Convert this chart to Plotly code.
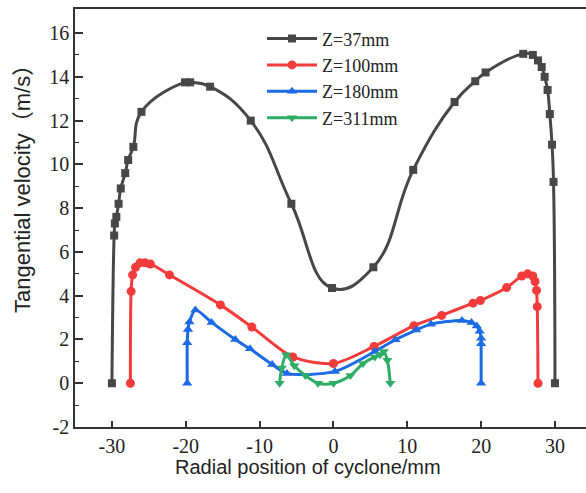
import plotly.graph_objects as go

# ---- data ----
x37 = [-30.0, -29.7, -29.6, -29.4, -29.1, -28.8, -28.2, -27.8, -27.1, -26.0, -20.1, -19.4, -16.7,
       -11.2, -5.7, -0.2, 5.4, 10.8, 16.4, 19.2, 20.6, 25.7, 27.0, 27.7, 28.2, 28.6, 29.0, 29.3,
       29.6, 29.8, 30.0]
y37 = [0.0, 6.75, 7.3, 7.6, 8.2, 8.9, 9.6, 10.2, 10.8, 12.4, 13.75, 13.75, 13.55,
       12.0, 8.2, 4.35, 5.3, 9.75, 12.85, 13.8, 14.2, 15.05, 15.0, 14.75, 14.45, 14.0, 13.4, 12.3,
       10.9, 9.2, 0.0]

x100 = [-27.5, -27.4, -27.2, -26.8, -26.2, -25.5, -24.8, -22.2, -15.3, -11.05, -5.5, 0.0, 5.5,
        10.9, 14.65, 18.9, 19.9, 23.45, 25.5, 26.3, 27.0, 27.3, 27.5, 27.6, 27.7]
y100 = [0.0, 4.2, 4.95, 5.3, 5.5, 5.5, 5.45, 4.95, 3.58, 2.57, 1.2, 0.9, 1.68,
        2.63, 3.1, 3.66, 3.78, 4.37, 4.9, 5.0, 4.9, 4.65, 4.24, 3.5, 0.0]

x180 = [-19.8, -19.8, -19.7, -19.5, -18.7, -16.5, -13.3, -11.3, -8.3, -6.3, 0.2, 5.6, 8.4,
        11.2, 13.2, 17.4, 18.7, 19.4, 19.8, 20.0, 20.0, 20.0]
y180 = [0.0, 1.85, 2.45, 2.8, 3.35, 2.78, 2.0, 1.57, 0.86, 0.45, 0.54, 1.45, 1.99,
        2.43, 2.7, 2.87, 2.78, 2.62, 2.37, 2.05, 1.8, 0.0]

x311 = [-7.3, -7.0, -6.4, -5.3, -3.8, -2.1, 0.0, 2.3, 4.0, 5.6, 6.3, 6.8, 7.3, 7.7]
y311 = [0.0, 0.7, 1.3, 0.8, 0.35, 0.0, 0.0, 0.35, 0.9, 1.2, 1.3, 1.45, 1.05, 0.0]

x_ticks = [-30, -20, -10, 0, 10, 20, 30]
x_tick_labels = ["-30", "-20", "-10", "0", "10", "20", "30"]
y_ticks = [-2, 0, 2, 4, 6, 8, 10, 12, 14, 16]
y_tick_labels = ["-2", "0", "2", "4", "6", "8", "10", "12", "14", "16"]
y_minor_ticks = [-1, 1, 3, 5, 7, 9, 11, 13, 15]

x_title = "Radial position of cyclone/mm"
y_title = "Tangential velocity（m/s）"

names = ["Z=37mm", "Z=100mm", "Z=180mm", "Z=311mm"]
colors = ["#474747", "#f23b3b", "#1c6ae4", "#2fac66"]
symbols = ["square", "circle", "triangle-up", "triangle-down"]
sizes = [8, 9, 9, 9]
smooth = [1.3, 0.8, 0.8, 0.8]

W, H = 586, 493
ML, MR, MT, MB = 75, 0, 9, 66
PW, PH = W - ML - MR, H - MT - MB

fig = go.Figure()
for xs, ys, n, c, s, sz, sm in zip([x37, x100, x180, x311], [y37, y100, y180, y311],
                                   names, colors, symbols, sizes, smooth):
    fig.add_trace(go.Scatter(
        x=xs, y=ys, name=n, mode="lines+markers",
        line=dict(color=c, width=3, shape="spline", smoothing=sm),
        marker=dict(symbol=s, size=sz, color=c),
    ))

axis_font = dict(family="Liberation Serif", size=20, color="#222")
fig.update_layout(
    width=W, height=H,
    margin=dict(l=ML, r=MR, t=MT, b=MB),
    paper_bgcolor="white", plot_bgcolor="white",
    showlegend=True,
    legend=dict(x=0.366, y=0.973, xanchor="left", yanchor="top",
                font=dict(family="Liberation Serif", size=18, color="#222"),
                bgcolor="rgba(0,0,0,0)", itemwidth=50, tracegroupgap=0),
    xaxis=dict(range=[-35, 34.2], tickmode="array", tickvals=x_ticks, ticktext=x_tick_labels,
               ticks="inside", ticklen=6, tickwidth=1.5, tickcolor="#333",
               showline=True, linecolor="#333", linewidth=1.5, mirror=True,
               showgrid=False, zeroline=False, tickfont=axis_font, automargin=False),
    yaxis=dict(range=[-2, 17.1], tickmode="array", tickvals=y_ticks, ticktext=y_tick_labels,
               ticks="inside", ticklen=8, tickwidth=1.5, tickcolor="#333",
               minor=dict(ticks="inside", tickvals=y_minor_ticks, ticklen=4,
                          tickwidth=1.2, tickcolor="#333"),
               showline=True, linecolor="#333", linewidth=1.5, mirror=False,
               showgrid=False, zeroline=False, tickfont=axis_font, automargin=False),
    annotations=[
        dict(text=x_title, xref="paper", yref="paper",
             x=(308 - ML) / PW, y=-(467 - (MT + PH)) / PH, xanchor="center", yanchor="middle",
             showarrow=False, font=dict(family="Liberation Sans", size=20, color="#222")),
        dict(text=y_title, xref="paper", yref="paper", textangle=-90,
             x=(22 - ML) / PW, y=((MT + PH) - 184) / PH, xanchor="center", yanchor="middle",
             showarrow=False,
             font=dict(family="Liberation Sans, Noto Sans CJK SC", size=22, color="#222")),
    ],
)

fig.write_html("out.html", config={"displayModeBar": False},
               post_script="document.body.style.margin='0px';")
